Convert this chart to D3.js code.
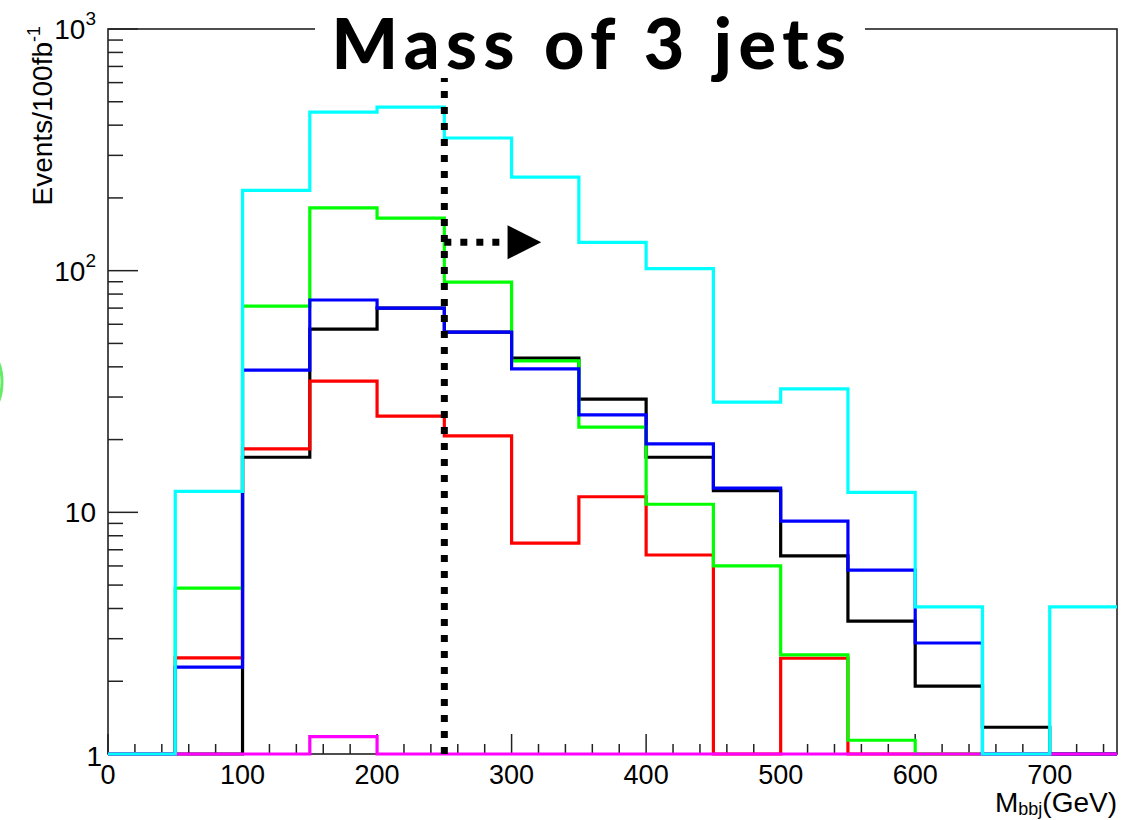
<!DOCTYPE html>
<html>
<head>
<meta charset="utf-8">
<script src="https://cdn.jsdelivr.net/npm/d3@7"></script>
<style>
  html, body { margin: 0; padding: 0; background: #fff; }
  svg { display: block; }
</style>
</head>
<body>
<svg id="chart" width="1126" height="820"></svg>
<script>
// Lower edges of the 50 GeV mass bins
const binLow = [0, 50, 100, 150, 200, 250, 300, 350, 400, 450, 500, 550, 600, 650, 700];
const binWidth = 50;

// Events per 100 fb^-1 in each bin (0 = empty bin, drawn on the axis floor)
const cyanValues    = [0, 12.2, 215, 453, 475, 354, 244, 131, 102, 28.6, 32.4, 12.1, 4.06, 0, 4.06];
const blackValues   = [0, 0, 16.9, 57.3, 70, 55.7, 43.5, 29.4, 16.9, 12.3, 6.6, 3.55, 1.91, 1.29, 0];
const redValues     = [0, 2.5, 18.3, 34.9, 25.0, 20.7, 7.46, 11.6, 6.66, 0, 2.49, 0, 0, 0, 0];
const greenValues   = [0, 4.86, 71.3, 182, 165, 89.7, 42.3, 22.5, 10.8, 6.0, 2.57, 1.14, 0, 0, 0];
const blueValues    = [0, 2.29, 38.8, 75.6, 70, 55.7, 39.2, 25.3, 19.2, 12.6, 9.2, 5.77, 2.88, 0, 0];
const magentaValues = [0, 0, 0, 1.18, 0, 0, 0, 0, 0, 0, 0, 0, 0, 0, 0];

// Axis ticks
const xMajorTicks = [0, 100, 200, 300, 400, 500, 600, 700];
const yDecades = [1, 10, 100, 1000];
const yDecadeLabels = [["1", ""], ["10", ""], ["10", "2"], ["10", "3"]];

// Selection cut and its direction
const cutValue = 250;
const arrowLevel = 131;
const arrowEnd = 297;
const arrowTip = 322;

const svg = d3.select("#chart");
const plotLeft = 108, plotRight = 1117, plotTop = 29, plotBottom = 754;

const x = d3.scaleLinear().domain([0, 750]).range([plotLeft, plotRight]);
const y = d3.scaleLog().domain([1, 1000]).range([plotBottom, plotTop]);
const yv = v => y(Math.max(v, 1));

const fontSans = "'Liberation Sans', Arial, Helvetica, sans-serif";

// Decorative green arc at the page edge
svg.append("ellipse")
  .attr("cx", -36).attr("cy", 382).attr("rx", 38).attr("ry", 46)
  .attr("fill", "none").attr("stroke", "#3ee63e").attr("stroke-width", 3)
  .attr("opacity", 0.8);

// Frame
svg.append("rect")
  .attr("x", plotLeft).attr("y", plotTop)
  .attr("width", plotRight - plotLeft).attr("height", plotBottom - plotTop)
  .attr("fill", "none").attr("stroke", "#222").attr("stroke-width", 1.6);

// X ticks: major every 100, minor every 20
const g = svg.append("g").attr("stroke", "#222").attr("stroke-width", 1.5);
d3.range(0, 751, 20).forEach(v => {
  if (v % 100 === 0) return;
  g.append("line").attr("x1", x(v)).attr("x2", x(v)).attr("y1", plotBottom).attr("y2", plotBottom - 10);
});
xMajorTicks.forEach(v => {
  g.append("line").attr("x1", x(v)).attr("x2", x(v)).attr("y1", plotBottom).attr("y2", plotBottom - 20);
});

// Y ticks: decades long, 2..9 short
yDecades.forEach((d, i) => {
  g.append("line").attr("x1", plotLeft).attr("x2", plotLeft + 30).attr("y1", y(d)).attr("y2", y(d));
  if (i < yDecades.length - 1) {
    for (let k = 2; k <= 9; k++) {
      g.append("line").attr("x1", plotLeft).attr("x2", plotLeft + 15)
        .attr("y1", y(d * k)).attr("y2", y(d * k));
    }
  }
});

// X tick labels
svg.append("g").selectAll("text").data(xMajorTicks).join("text")
  .attr("x", d => x(d)).attr("y", plotBottom + 30)
  .attr("text-anchor", "middle")
  .attr("font-family", fontSans).attr("font-size", 27)
  .text(d => d);

// Y tick labels (powers of ten)
yDecades.forEach((d, i) => {
  const t = svg.append("text")
    .attr("x", d === 1 ? plotLeft - 6 : plotLeft - 12)
    .attr("y", y(d) + (d === 1 ? 12 : 10))
    .attr("text-anchor", "end")
    .attr("font-family", fontSans).attr("font-size", 28);
  t.append("tspan").text(yDecadeLabels[i][0]);
  if (yDecadeLabels[i][1]) {
    t.append("tspan").attr("dy", -14).attr("font-size", 19).text(yDecadeLabels[i][1]);
  }
});

// Axis titles
const yt = svg.append("text")
  .attr("transform", `translate(52, ${plotTop - 3}) rotate(-90)`)
  .attr("text-anchor", "end")
  .attr("font-family", fontSans).attr("font-size", 28);
yt.append("tspan").text("Events/100fb");
yt.append("tspan").attr("dy", -12).attr("font-size", 18).text("-1");

const xt = svg.append("text")
  .attr("x", plotRight).attr("y", 812)
  .attr("text-anchor", "end")
  .attr("font-family", fontSans).attr("font-size", 28);
xt.append("tspan").text("M");
xt.append("tspan").attr("dy", 3).attr("font-size", 18).text("bbj");
xt.append("tspan").attr("dy", -3).text("(GeV)");

// Histogram outlines
const step = d3.line().x(d => x(d[0])).y(d => yv(d[1])).curve(d3.curveStepAfter);
function histPoints(values) {
  const pts = binLow.map((lo, i) => [lo, values[i]]);
  pts.push([binLow[binLow.length - 1] + binWidth, values[values.length - 1]]);
  return pts;
}
const series = [
  { values: blackValues, color: "#000000" },
  { values: redValues, color: "#ff0000" },
  { values: greenValues, color: "#00ff00" },
  { values: blueValues, color: "#0000ff" },
  { values: magentaValues, color: "#ff00ff" },
  { values: cyanValues, color: "#00ffff" }
];
svg.append("g").selectAll("path").data(series).join("path")
  .attr("d", d => step(histPoints(d.values)))
  .attr("fill", "none")
  .attr("stroke", d => d.color)
  .attr("stroke-width", 3.2)
  .attr("stroke-linejoin", "miter");

// Cut line and arrow
svg.append("line")
  .attr("x1", x(cutValue)).attr("x2", x(cutValue))
  .attr("y1", plotBottom).attr("y2", 78)
  .attr("stroke", "#000").attr("stroke-width", 7)
  .attr("stroke-dasharray", "7,9");
const ay = y(arrowLevel);
svg.append("line")
  .attr("x1", x(cutValue)).attr("x2", x(arrowEnd) - 4)
  .attr("y1", ay).attr("y2", ay)
  .attr("stroke", "#000").attr("stroke-width", 7)
  .attr("stroke-dasharray", "7,9");
svg.append("path")
  .attr("d", `M${x(arrowEnd)},${ay - 17} L${x(arrowTip)},${ay} L${x(arrowEnd)},${ay + 17} Z`)
  .attr("fill", "#000");

// Title on a white band over the top frame
svg.append("rect")
  .attr("x", 315).attr("y", 0).attr("width", 550).attr("height", 78)
  .attr("fill", "#fff");
svg.append("text")
  .attr("x", 592).attr("y", 69)
  .attr("text-anchor", "middle")
  .attr("font-family", "Lato, 'Open Sans', sans-serif")
  .attr("font-weight", 900)
  .attr("font-size", 70)
  .attr("letter-spacing", 6.5)
  .text("Mass of 3 jets");
</script>
</body>
</html>
